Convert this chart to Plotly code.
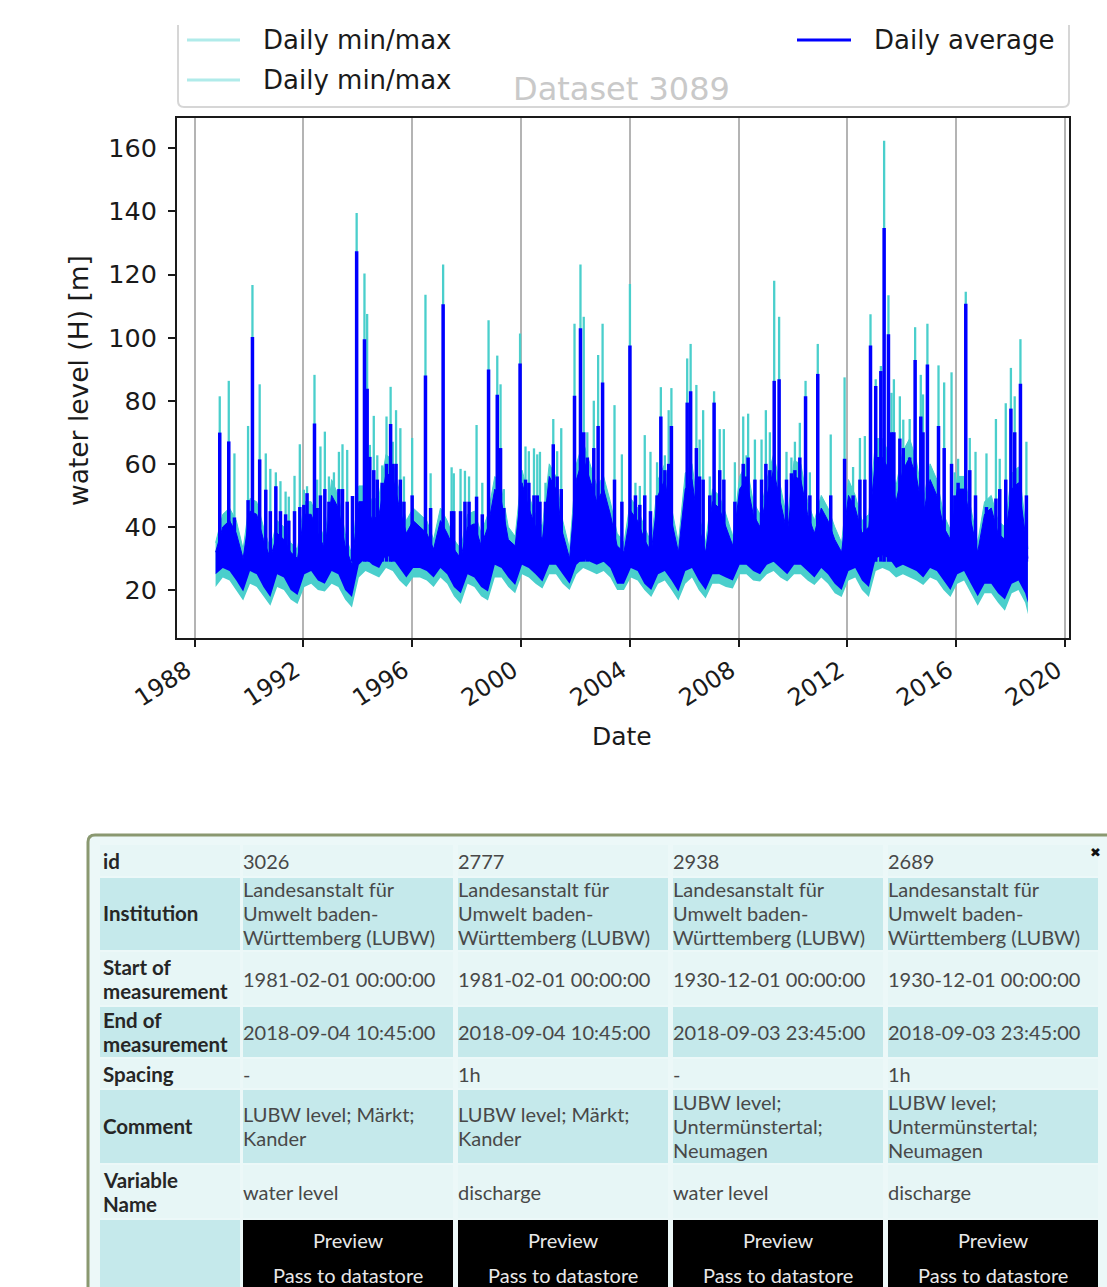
import plotly.graph_objects as go

W, H = 1107, 1287


def fx(x):
    return x / W


def fy(y):
    return 1 - y / H


# ---------------- chart data ----------------
band_dates = [
    "1988-10-10",
    "1989-01-15", "1989-04-15", "1989-07-15", "1989-10-15",
    "1990-01-15", "1990-04-15", "1990-07-15", "1990-10-15",
    "1991-01-15", "1991-04-15", "1991-07-15", "1991-10-15",
    "1992-01-15", "1992-04-15", "1992-07-15", "1992-10-15",
    "1993-01-15", "1993-04-15", "1993-07-15", "1993-10-15",
    "1994-01-15", "1994-04-15", "1994-07-15", "1994-10-15",
    "1995-01-15", "1995-04-15", "1995-07-15", "1995-10-15",
    "1996-01-15", "1996-04-15", "1996-07-15", "1996-10-15",
    "1997-01-15", "1997-04-15", "1997-07-15", "1997-10-15",
    "1998-01-15", "1998-04-15", "1998-07-15", "1998-10-15",
    "1999-01-15", "1999-04-15", "1999-07-15", "1999-10-15",
    "2000-01-15", "2000-04-15", "2000-07-15", "2000-10-15",
    "2001-01-15", "2001-04-15", "2001-07-15", "2001-10-15",
    "2002-01-15", "2002-04-15", "2002-07-15", "2002-10-15",
    "2003-01-15", "2003-04-15", "2003-07-15", "2003-10-15",
    "2004-01-15", "2004-04-15", "2004-07-15", "2004-10-15",
    "2005-01-15", "2005-04-15", "2005-07-15", "2005-10-15",
    "2006-01-15", "2006-04-15", "2006-07-15", "2006-10-15",
    "2007-01-15", "2007-04-15", "2007-07-15", "2007-10-15",
    "2008-01-15", "2008-04-15", "2008-07-15", "2008-10-15",
    "2009-01-15", "2009-04-15", "2009-07-15", "2009-10-15",
    "2010-01-15", "2010-04-15", "2010-07-15", "2010-10-15",
    "2011-01-15", "2011-04-15", "2011-07-15", "2011-10-15",
    "2012-01-15", "2012-04-15", "2012-07-15", "2012-10-15",
    "2013-01-15", "2013-04-15", "2013-07-15", "2013-10-15",
    "2014-01-15", "2014-04-15", "2014-07-15", "2014-10-15",
    "2015-01-15", "2015-04-15", "2015-07-15", "2015-10-15",
    "2016-01-15", "2016-04-15", "2016-07-15", "2016-10-15",
    "2017-01-15", "2017-04-15", "2017-07-15", "2017-10-15",
    "2018-01-15", "2018-04-15", "2018-07-15", "2018-08-20",
]
daily_min = [
    21,
    24, 23, 20, 16.7,
    22, 21, 18, 15,
    21, 20, 17, 15.6,
    21, 22, 20, 19.5,
    22, 21, 17, 14.5,
    24, 26, 25, 24,
    27, 26, 23, 21,
    24, 24, 23, 21,
    24, 22, 18, 15.6,
    22, 21, 18, 16.7,
    24, 24, 21, 19,
    25, 24, 22, 20.5,
    25, 25, 22, 20,
    25, 27, 26, 25,
    26, 24, 20, 20,
    24, 23, 20, 17.8,
    22, 23, 20, 16.7,
    22, 24, 20, 17.3,
    22, 22, 21, 20.5,
    25, 25, 23, 22.7,
    25, 26, 24, 22.7,
    25, 25, 23, 21.6,
    24, 22, 19, 17.8,
    23, 24, 20, 17.8,
    26, 27, 26, 24,
    25, 24, 23, 21.6,
    24, 23, 20, 17.8,
    22, 23, 19, 15,
    19, 19, 16, 13.4,
    19, 20, 16, 12.3,
]
avg_low = [
    25,
    27, 26, 23, 19.5,
    26, 25, 21, 17.8,
    25, 24, 20, 18.4,
    25, 26, 23, 22,
    26, 25, 20, 17.8,
    28, 30, 28, 27,
    31, 30, 27, 24,
    27, 27, 26, 24,
    27, 25, 21, 19,
    25, 24, 21, 19.5,
    28, 27, 24, 21.6,
    28, 27, 25, 22.7,
    28, 28, 25, 22,
    28, 30, 29, 28,
    29, 27, 22, 22,
    27, 26, 22, 20,
    25, 26, 23, 19.5,
    26, 27, 23, 20,
    25, 25, 24, 23,
    28, 28, 26, 25,
    28, 29, 27, 25,
    28, 28, 26, 24,
    27, 25, 22, 20,
    26, 27, 23, 21,
    30, 31, 30, 27,
    28, 27, 26, 24,
    27, 26, 23, 20,
    25, 26, 22, 18,
    22, 22, 19, 17,
    22, 23, 19, 16,
]
avg_high = [
    32,
    40, 42, 38, 30,
    45, 44, 36, 30,
    38, 36, 32, 30,
    44, 44, 38, 33,
    50, 46, 34, 28,
    48, 48, 42, 44,
    57, 56, 46, 38,
    42, 40, 38, 33,
    42, 38, 33, 30,
    40, 41, 34, 40,
    52, 48, 36, 34,
    54, 46, 40, 36,
    56, 52, 38, 30,
    55, 62, 55, 48,
    52, 44, 34, 32,
    45, 42, 36, 32,
    50, 55, 42, 32,
    52, 55, 40, 32,
    48, 46, 40, 34,
    52, 55, 44, 40,
    50, 58, 48, 38,
    56, 55, 44, 38,
    46, 42, 36, 32,
    50, 46, 38, 40,
    62, 62, 58, 48,
    58, 62, 56, 44,
    55, 50, 40, 36,
    52, 52, 42, 32,
    44, 46, 38, 36,
    52, 54, 38, 30,
]
daily_max = [
    35,
    44, 46, 42, 33,
    49, 48, 40, 33,
    42, 40, 35, 33,
    48, 48, 42, 36,
    55, 50, 38, 31,
    53, 53, 48, 50,
    63, 61, 51, 42,
    46, 44, 42, 36,
    46, 42, 36, 33,
    44, 45, 38, 44,
    56, 52, 40, 37,
    58, 50, 44, 40,
    60, 56, 42, 33,
    60, 67, 60, 53,
    56, 48, 38, 35,
    49, 46, 40, 35,
    55, 60, 46, 35,
    57, 60, 44, 35,
    52, 50, 44, 37,
    56, 60, 48, 44,
    55, 63, 53, 42,
    61, 60, 48, 42,
    50, 46, 40, 35,
    55, 50, 42, 44,
    68, 68, 63, 53,
    64, 68, 61, 48,
    60, 55, 44, 39,
    56, 56, 46, 35,
    48, 50, 42, 40,
    57, 59, 42, 33,
]

# major flood peaks
spike_dates = [
    "1988-12-05", "1989-04-05", "1989-06-20", "1989-12-20", "1990-02-17",
    "1990-05-25", "1990-08-15", "1990-10-15", "1990-12-28", "1991-05-08",
    "1991-09-05", "1991-11-15", "1992-02-20", "1992-05-30", "1992-08-18",
    "1992-10-16", "1993-02-15", "1993-06-10", "1993-08-12", "1993-10-22",
    "1993-12-17", "1994-04-01", "1994-05-07", "1994-06-12", "1994-08-04",
    "1995-01-22", "1995-03-18", "1995-05-30", "1995-07-27", "1996-01-01",
    "1996-06-28", "1997-02-20", "1997-06-14", "1997-10-12", "1997-12-10",
    "1998-05-15", "1998-10-23", "1999-02-17", "1999-04-02", "1999-12-20",
    "2000-03-02", "2000-06-24", "2000-09-12", "2001-03-10", "2001-06-25",
    "2001-12-20", "2002-03-10", "2002-04-23", "2002-11-02", "2003-01-01",
    "2003-06-10", "2003-09-17", "2004-01-03", "2004-03-17", "2004-07-20",
    "2004-10-05", "2005-01-01", "2005-02-21", "2005-06-06", "2005-07-13",
    "2006-02-10", "2006-03-28", "2006-06-13", "2006-09-12", "2007-02-06",
    "2007-06-17", "2007-11-12", "2008-03-03", "2008-05-08", "2008-08-07",
    "2008-11-04", "2009-01-01", "2009-02-24", "2009-04-23", "2009-06-28",
    "2010-01-26", "2010-04-02", "2010-06-18", "2010-11-29", "2011-05-22",
    "2011-11-24", "2012-06-17", "2012-11-06", "2013-01-15", "2013-03-25",
    "2013-05-08", "2013-07-05", "2013-09-16", "2013-12-05", "2014-04-16",
    "2014-06-28", "2014-09-12", "2014-12-10", "2015-05-08", "2015-07-23",
    "2015-10-30", "2015-12-13", "2016-05-08", "2016-07-01", "2016-09-16",
    "2017-02-10", "2017-06-17", "2017-10-27", "2018-01-04", "2018-05-12",
    "2018-07-31",
]
spike_avg = [
    69.9, 67.1, 43, 48.5, 100.2,
    61.4, 51.8, 45, 52.9, 44,
    45, 46.3, 50.7, 72.8, 50,
    52, 48, 52, 48, 49.8,
    127.4, 99.5, 83.8, 62.2, 58,
    60, 72.6, 60, 55, 50,
    88, 110.6, 45, 45, 48,
    49.6, 89.9, 81.9, 65, 91.8,
    55, 50, 48, 66.2, 52,
    81.6, 103, 70, 72, 85.8,
    55, 48, 97.5, 50, 50,
    45, 50, 75, 60, 72,
    79.4, 83, 65, 55, 79.4,
    55, 48, 60, 62, 55,
    55, 60, 58, 86.3, 86.8,
    58, 62, 81.4, 88.5, 50,
    61.6, 55, 97.5, 84.7, 89.4,
    134.7, 101.1, 70, 68, 62,
    92.9, 75, 91.5, 72, 65,
    60, 50, 110.7, 58, 50,
    46.3, 49, 55, 77.5, 85.4,
    50,
]
spike_max = [
    81.4, 86.3, 63.3, 72, 116.7,
    85.2, 63.3, 58.4, 57.3, 51.2,
    56.2, 66.2, 52.9, 88.2, 65.5,
    70.2, 57.3, 66.2, 64.4, 49.8,
    139.5, 120.3, 107.5, 66, 75.2,
    75, 84.4, 77, 71.3, 68.2,
    113.6, 123.2, 58.9, 58.4, 57.8,
    72.3, 105.5, 94.3, 85.2, 101.3,
    65.5, 64.9, 63.8, 74.2, 71.3,
    104.4, 123.2, 106.6, 94.5, 104.4,
    78.6, 63, 117, 54, 69.1,
    63.8, 60.5, 84.3, 77, 84,
    93.4, 98, 85, 77, 83,
    71, 60.5, 75, 75.9, 67.7,
    67.7, 77, 70, 118, 106.6,
    67, 73, 86.3, 98, 69.3,
    87.4, 68.2, 107.4, 86.8, 91,
    162.4, 113.4, 86.8, 81.4, 74.2,
    103.3, 88.2, 104.4, 91.2, 85.8,
    89, 57.3, 114.5, 68.2, 63.8,
    63.3, 74.2, 79.2, 90.4, 99.5,
    67,
]

# smaller peaks inside the dense part
minor_dates = [
    "1991-02-28", "1991-06-20", "1992-01-08", "1992-07-05", "1992-12-10",
    "1993-04-23", "1994-09-20", "1994-11-25", "1995-04-16", "1995-09-13",
    "1996-09-05", "1997-07-13", "1998-02-03", "1998-07-31", "1999-05-16",
    "2000-04-16", "2000-08-07", "2000-11-25", "2001-05-01", "2002-06-10",
    "2002-09-05", "2004-05-15", "2005-04-16", "2006-07-26", "2006-12-10",
    "2007-04-23", "2008-04-16", "2009-10-05", "2009-12-10", "2010-08-15",
    "2012-03-17", "2012-08-22", "2013-08-15", "2014-01-20", "2014-10-12",
    "2016-01-26", "2017-08-07", "2018-02-24",
]
minor_avg = [
    45, 42, 47, 46, 48,
    52, 55, 54, 60, 48,
    46, 45, 48, 44, 46,
    54, 50, 48, 56, 62,
    65, 47, 58, 56, 50,
    58, 56, 55, 57, 50,
    50, 55, 70, 65, 70,
    54, 52, 70,
]
minor_max = [
    54.5, 49.6, 51.8, 55, 56,
    63.8, 62.7, 59.5, 67, 56,
    57, 57, 56, 54, 52,
    64, 63, 54, 64, 70,
    80, 53, 62.7, 67.7, 56,
    71, 62.7, 63.8, 62, 57.3,
    59, 68.8, 82.5, 74, 82,
    61.6, 61.6, 81.4,
]

year_ticks = [1988, 1992, 1996, 2000, 2004, 2008, 2012, 2016, 2020]
level_ticks = [20, 40, 60, 80, 100, 120, 140, 160]

legend_labels = ["Daily min/max", "Daily min/max", "Daily average"]
chart_title = "Dataset 3089"
x_title = "Date"
y_title = "water level (H) [m]"

# ---------------- table data ----------------
row_labels = ["id", "Institution", "Start of\nmeasurement", "End of\nmeasurement",
              "Spacing", "Comment", "Variable\nName", ""]
ids = ["3026", "2777", "2938", "2689"]
institutions = ["Landesanstalt für\nUmwelt baden-\nWürttemberg (LUBW)"] * 4
starts = ["1981-02-01 00:00:00", "1981-02-01 00:00:00",
          "1930-12-01 00:00:00", "1930-12-01 00:00:00"]
ends = ["2018-09-04 10:45:00", "2018-09-04 10:45:00",
        "2018-09-03 23:45:00", "2018-09-03 23:45:00"]
spacings = ["-", "1h", "-", "1h"]
comments = ["LUBW level; Märkt;\nKander", "LUBW level; Märkt;\nKander",
            "LUBW level;\nUntermünstertal;\nNeumagen", "LUBW level;\nUntermünstertal;\nNeumagen"]
variables = ["water level", "discharge", "water level", "discharge"]
button_labels = ["Preview", "Pass to datastore"]

# ---------------- styles ----------------
CYAN = "#4acfcc"
CYAN_LEG = "#b0ebea"
BLUE = "#0000ff"
FONT = "DejaVu Sans"
TFONT = "Lato"
SPIKE_BASE = 29

fig = go.Figure()

# min/max band
fig.add_trace(go.Scatter(x=band_dates, y=daily_min, mode="lines",
                         line=dict(width=0, color=CYAN), hoverinfo="skip", showlegend=False))
fig.add_trace(go.Scatter(x=band_dates, y=daily_max, mode="lines", fill="tonexty",
                         fillcolor=CYAN, line=dict(width=1, color=CYAN),
                         name=legend_labels[0], showlegend=False))
# min/max spikes
sx, sy = [], []
for d, m in zip(spike_dates + minor_dates, spike_max + minor_max):
    sx += [d, d, None]
    sy += [SPIKE_BASE, m, None]
fig.add_trace(go.Scatter(x=sx, y=sy, mode="lines", line=dict(width=2.3, color=CYAN),
                         name=legend_labels[1], showlegend=False, hoverinfo="skip"))
# average band
fig.add_trace(go.Scatter(x=band_dates, y=avg_low, mode="lines",
                         line=dict(width=0, color=BLUE), hoverinfo="skip", showlegend=False))
fig.add_trace(go.Scatter(x=band_dates, y=avg_high, mode="lines", fill="tonexty",
                         fillcolor=BLUE, line=dict(width=1, color=BLUE),
                         name=legend_labels[2], showlegend=False))
bx, by = [], []
for d, a in zip(spike_dates + minor_dates, spike_avg + minor_avg):
    bx += [d, d, None]
    by += [SPIKE_BASE, a, None]
fig.add_trace(go.Scatter(x=bx, y=by, mode="lines", line=dict(width=3.5, color=BLUE),
                         showlegend=False, hoverinfo="skip"))

shapes = []
annotations = []

# legend box (top clipped)
lx0, lx1, ly0, ly1, r = 178, 1069, 25, 107, 6
path = (f"M {fx(lx0)},{fy(ly0)} L {fx(lx0)},{fy(ly1 - r)} "
        f"Q {fx(lx0)},{fy(ly1)} {fx(lx0 + r)},{fy(ly1)} "
        f"L {fx(lx1 - r)},{fy(ly1)} Q {fx(lx1)},{fy(ly1)} {fx(lx1)},{fy(ly1 - r)} "
        f"L {fx(lx1)},{fy(ly0)}")
shapes.append(dict(type="path", xref="paper", yref="paper", path=path,
                   line=dict(color="#d6d6d6", width=2)))
for (x0, x1, y, col) in [(187, 240, 40, CYAN_LEG), (187, 240, 80, CYAN_LEG), (797, 851, 40, BLUE)]:
    shapes.append(dict(type="line", xref="paper", yref="paper", x0=fx(x0), x1=fx(x1),
                       y0=fy(y), y1=fy(y), line=dict(color=col, width=3)))
for (x, y, t) in [(261, 40, legend_labels[0]), (261, 80, legend_labels[1]), (872, 40, legend_labels[2])]:
    annotations.append(dict(x=fx(x), y=fy(y), xref="paper", yref="paper", text=t,
                            showarrow=False, xanchor="left", yanchor="middle",
                            font=dict(family=FONT, size=26, color="#1a1a1a")))
annotations.append(dict(x=fx(621), y=fy(89), xref="paper", yref="paper", text=chart_title,
                        showarrow=False, xanchor="center", yanchor="middle",
                        font=dict(family=FONT, size=32, color="#c9c9c9")))
annotations.append(dict(x=fx(622), y=fy(736), xref="paper", yref="paper", text=x_title,
                        showarrow=False, xanchor="center", yanchor="middle",
                        font=dict(family=FONT, size=25, color="#1a1a1a")))
annotations.append(dict(x=fx(78), y=fy(381), xref="paper", yref="paper", text=y_title,
                        showarrow=False, textangle=-90, xanchor="center", yanchor="middle",
                        font=dict(family=FONT, size=26.5, color="#1a1a1a")))

# ---------------- table ----------------
PANEL = "#ecf8f8"
LIGHT = "#e7f6f6"
DARK = "#c5e9eb"
shapes.append(dict(type="rect", xref="paper", yref="paper", x0=fx(88), x1=fx(1107),
                   y0=fy(1287), y1=fy(835), fillcolor=PANEL, line=dict(width=0), layer="below"))
bpath = (f"M {fx(88)},{fy(1287)} L {fx(88)},{fy(842)} Q {fx(88)},{fy(835)} {fx(95)},{fy(835)} "
         f"L {fx(1107)},{fy(835)}")
shapes.append(dict(type="path", xref="paper", yref="paper", path=bpath,
                   line=dict(color="#8a9870", width=3)))

col_x = [(100, 240), (243, 453), (458, 668), (673, 883), (888, 1098)]
row_y = [(845, 876), (878, 950), (952, 1005), (1007, 1057), (1059, 1088),
         (1090, 1163), (1165, 1218), (1220, 1295)]
row_fill = [LIGHT, DARK, LIGHT, DARK, LIGHT, DARK, LIGHT, DARK]
row_center = [861, 913, 979, 1032, 1074, 1126, 1192, 1258]
row_values = [ids, institutions, starts, ends, spacings, comments, variables, None]
LH = 24.3

for ri, (y0, y1) in enumerate(row_y):
    for ci, (x0, x1) in enumerate(col_x):
        fill = row_fill[ri]
        if ri == 7 and ci > 0:
            fill = "#000000"
        shapes.append(dict(type="rect", xref="paper", yref="paper", x0=fx(x0), x1=fx(x1),
                           y0=fy(min(y1, 1287)), y1=fy(y0), fillcolor=fill,
                           line=dict(width=0), layer="below"))


def add_lines(text, x, cy, anchor, font):
    lines = text.split("\n")
    n = len(lines)
    for i, ln in enumerate(lines):
        yy = cy + (i - (n - 1) / 2) * LH
        annotations.append(dict(x=fx(x), y=fy(yy), xref="paper", yref="paper", text=ln,
                                showarrow=False, xanchor=anchor, yanchor="middle", font=font))


lab_font = dict(family=TFONT, size=20.5, color="#262626", weight="bold")
val_font = dict(family=TFONT, size=20, color="#484848")
for ri, lab in enumerate(row_labels):
    if lab:
        add_lines(lab, 101, row_center[ri], "left", lab_font)
    vals = row_values[ri]
    if vals is not None:
        for ci, v in enumerate(vals):
            add_lines(v, col_x[ci + 1][0] - 2, row_center[ri], "left", val_font)

btn_font = dict(family=TFONT, size=20, color="#e8e8e8")
for ci in range(1, 5):
    cx = (col_x[ci][0] + col_x[ci][1]) / 2
    annotations.append(dict(x=fx(cx), y=fy(1240), xref="paper", yref="paper", text=button_labels[0],
                            showarrow=False, xanchor="center", yanchor="middle", font=btn_font))
    annotations.append(dict(x=fx(cx), y=fy(1275), xref="paper", yref="paper", text=button_labels[1],
                            showarrow=False, xanchor="center", yanchor="middle", font=btn_font))
annotations.append(dict(x=fx(1095), y=fy(852), xref="paper", yref="paper", text="✖",
                        showarrow=False, xanchor="center", yanchor="middle",
                        font=dict(family="DejaVu Sans", size=13, color="#111111")))

fig.update_layout(
    width=W, height=H, autosize=False,
    margin=dict(l=0, r=0, t=0, b=0, pad=0),
    paper_bgcolor="white", plot_bgcolor="white",
    showlegend=False,
    shapes=shapes, annotations=annotations,
    xaxis=dict(
        domain=[fx(177), fx(1069)], type="date",
        range=["1987-05-11", "2020-02-23"],
        tickvals=[f"{y}-01-01" for y in year_ticks], ticktext=[str(y) for y in year_ticks],
        tickangle=-33, tickfont=dict(family=FONT, size=24, color="#1a1a1a"),
        ticklabelshift=-8,
        showgrid=True, gridcolor="#b4b4b4", gridwidth=2,
        ticks="outside", ticklen=7, tickwidth=2, tickcolor="#1a1a1a",
        showline=True, mirror=True, linecolor="#1a1a1a", linewidth=2,
        zeroline=False, automargin=False,
    ),
    yaxis=dict(
        domain=[fy(638), fy(118)], range=[4.8, 169.6],
        tickvals=level_ticks, ticktext=[str(v) for v in level_ticks],
        tickfont=dict(family=FONT, size=25.5, color="#1a1a1a"),
        ticklabelstandoff=6,
        showgrid=False, ticks="outside", ticklen=7, tickwidth=2, tickcolor="#1a1a1a",
        showline=True, mirror=True, linecolor="#1a1a1a", linewidth=2,
        zeroline=False, automargin=False,
    ),
)

fig.write_html("out.html", config={"displayModeBar": False},
               post_script="document.body.style.margin='0';document.body.style.overflow='hidden';")
